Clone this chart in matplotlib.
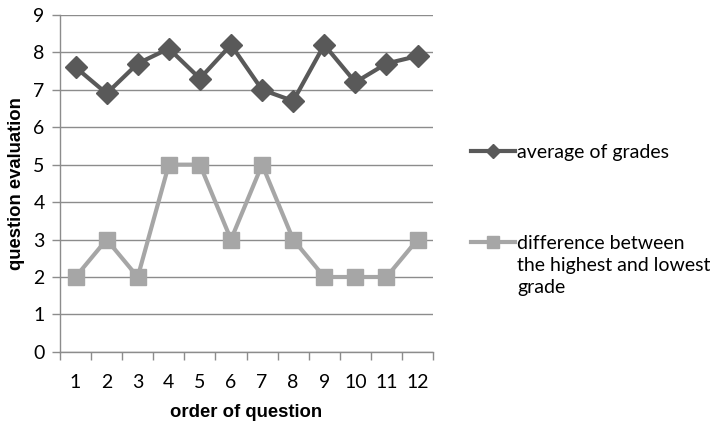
import matplotlib
matplotlib.use("Agg")
import matplotlib.pyplot as plt
import numpy as np

questions = [1, 2, 3, 4, 5, 6, 7, 8, 9, 10, 11, 12]
average = [7.6, 6.9, 7.7, 8.1, 7.3, 8.2, 7.0, 6.7, 8.2, 7.2, 7.7, 7.9]
difference = [2, 3, 2, 5, 5, 3, 5, 3, 2, 2, 2, 3]
labels = ["average of grades", "difference between\nthe highest and lowest\ngrade"]

plt.rcParams['font.family'] = ['Lato', 'DejaVu Sans']

fig = plt.figure(figsize=(7.10, 4.24), dpi=100)
ax = fig.add_axes([0.0845, 0.170, 0.5255, 0.795])

dark = '#595959'
light = '#A6A6A6'
grid = '#8C8C8C'

l1, = ax.plot(questions, average, color=dark, lw=3, marker='D', ms=11, label=labels[0])
l2, = ax.plot(questions, difference, color=light, lw=3, marker='s', ms=12, label=labels[1])

ax.set_xlim(0.5, 12.5)
ax.set_ylim(0, 9)
ax.set_yticks(range(0, 10))
ax.set_xticks(questions)
ax.set_xticks(np.arange(0.5, 13, 1), minor=True)
ax.tick_params(axis='x', which='major', length=0, pad=16, labelsize=14, labelcolor='black')
ax.tick_params(axis='x', which='minor', length=6, color=grid, width=1)
ax.tick_params(axis='y', length=6, color=grid, width=1, labelsize=14, pad=5)
ax.yaxis.grid(True, color=grid, lw=1)
ax.set_axisbelow(True)
for s in ['top', 'right']:
    ax.spines[s].set_visible(False)
for s in ['left', 'bottom']:
    ax.spines[s].set_color(grid)
    ax.spines[s].set_linewidth(1)

ax.set_xlabel("order of question", fontsize=13.3, fontweight='bold', family='Liberation Sans', labelpad=9)
ax.set_ylabel("question evaluation", fontsize=13.3, fontweight='bold', family='Liberation Sans', labelpad=6)

leg1 = fig.legend(handles=[l1], labels=[labels[0]], loc='center left', bbox_to_anchor=(0.652, 0.641),
                  frameon=False, fontsize=14, handlelength=2.3, handletextpad=0.1, borderaxespad=0)
leg2 = fig.legend(handles=[l2], labels=[labels[1]], loc='upper left', bbox_to_anchor=(0.652, 0.463),
                  frameon=False, fontsize=14, handlelength=2.3, handletextpad=0.1, borderaxespad=0)
leg2.texts[0].set_linespacing(1.35)
leg1.legend_handles[0].set_markersize(7)
leg2.legend_handles[0].set_markersize(9)
try:
    for col in leg2._legend_handle_box.get_children():
        for hp in col.get_children():
            hp.align = 'top'
except Exception:
    pass

fig.savefig("out.png", dpi=100)
